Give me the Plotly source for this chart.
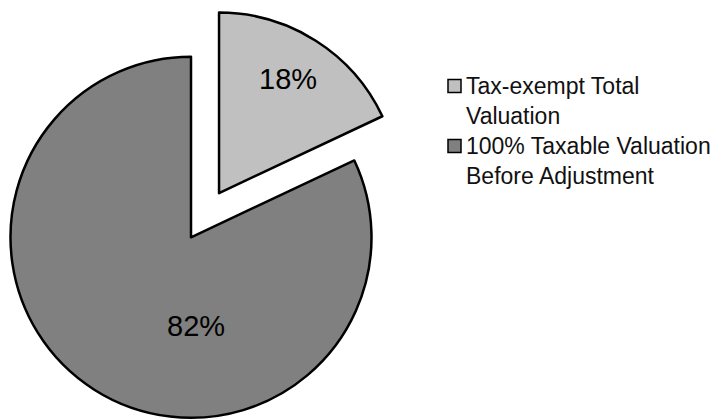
import math
import plotly.graph_objects as go

# Slice data
labels = ["Tax-exempt Total Valuation", "100% Taxable Valuation Before Adjustment"]
legend_labels = ["Tax-exempt Total<br>Valuation", "100% Taxable Valuation<br>Before Adjustment"]
values = [18, 82]
colors = ["#C0C0C0", "#808080"]
pulls = [0.29, 0.0]

# Canvas and pie geometry (pixels)
W, H = 723, 420
CX, CY, R = 191.0, 237.3, 180.5
FONT = "Arial, Liberation Sans, sans-serif"
CLEAR = "rgba(0,0,0,0)"

total = sum(values)
shares = [v / total for v in values]
pct_text = [f"{round(s * 100)}%" for s in shares]

# mid-angle of each slice, clockwise from 12 o'clock
starts, acc = [], 0.0
for s in shares:
    starts.append(acc)
    acc += s
mids = [(st + s / 2) * 2 * math.pi for st, s in zip(starts, shares)]


def domain_for(cx, cy, r):
    return dict(x=[(cx - r) / W, (cx + r) / W],
                y=[1 - (cy + r) / H, 1 - (cy - r) / H])


fig = go.Figure()
# one pie layer per slice, so an exploded slice keeps the full radius
for i in range(len(values)):
    off = pulls[i] * R
    cx = CX + off * math.sin(mids[i])
    cy = CY - off * math.cos(mids[i])
    fig.add_trace(go.Pie(
        labels=labels,
        values=values,
        sort=False,
        direction="clockwise",
        rotation=0,
        domain=domain_for(cx, cy, R),
        marker=dict(
            colors=[c if j == i else CLEAR for j, c in enumerate(colors)],
            line=dict(color="black",
                      width=[2.5 if j == i else 0 for j in range(len(values))]),
        ),
        textinfo="none",
        hoverinfo="label+percent",
        showlegend=False,
    ))

# percentage labels
label_px = [(288, 79), (196, 326)]
annotations = []
for (x, y), t in zip(label_px, pct_text):
    annotations.append(dict(
        x=x / W, y=1 - y / H, xref="paper", yref="paper",
        text=t, showarrow=False, xanchor="center", yanchor="middle",
        font=dict(family=FONT, size=29, color="black"),
    ))

# legend: swatches and wrapped labels
shapes = []
legend_x, legend_y0, legend_step, sw = 448, 86, 60, 13
for k, (lab, col) in enumerate(zip(legend_labels, colors)):
    yc = legend_y0 + k * legend_step
    shapes.append(dict(
        type="rect", xref="paper", yref="paper",
        x0=legend_x / W, x1=(legend_x + sw) / W,
        y0=1 - (yc + sw / 2) / H, y1=1 - (yc - sw / 2) / H,
        fillcolor=col, line=dict(color="black", width=1.5),
    ))
    annotations.append(dict(
        x=(legend_x + sw + 3) / W, y=1 - (yc - 15) / H,
        xref="paper", yref="paper",
        text=lab, showarrow=False, xanchor="left", yanchor="top",
        align="left",
        font=dict(family=FONT, size=23, color="#111111"),
    ))

fig.update_layout(
    width=W, height=H,
    margin=dict(l=0, r=0, t=0, b=0),
    paper_bgcolor="white",
    plot_bgcolor="white",
    showlegend=False,
    annotations=annotations,
    shapes=shapes,
)

fig.write_html("out.html")
